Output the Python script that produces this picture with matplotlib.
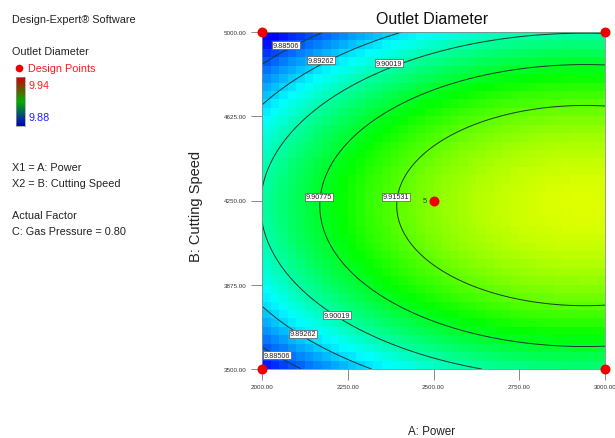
import numpy as np
import matplotlib.pyplot as plt
from matplotlib.colors import LinearSegmentedColormap, Normalize
from matplotlib.lines import Line2D

plt.rcParams['font.family'] = ['Liberation Sans', 'DejaVu Sans']

# factor ranges
power_lim = [2000.0, 3000.0]
speed_lim = [3500.0, 5000.0]

# quadratic model in coded units (x1 = power, x2 = cutting speed)
b0 = 9.91800
b1 = 0.011268
b11 = -0.006367
b2 = -0.00131
b22 = -0.02179

contour_levels = [9.88506, 9.89262, 9.90019, 9.90775, 9.91531]
color_lo, color_hi = 9.88, 9.94

# design points
design_A = [2000, 2000, 3000, 3000, 2500]
design_B = [3500, 5000, 5000, 3500, 4250]

# where each contour label sits (A, B, level)
label_A = [2070, 2172, 2370, 2166, 2391, 2219, 2120, 2044]
label_B = [4942, 4875, 4862, 4266, 4266, 3740, 3656, 3562]
label_val = [9.88506, 9.89262, 9.90019, 9.90775, 9.91531, 9.90019, 9.89262, 9.88506]

x_ticks = [2000, 2250, 2500, 2750, 3000]
y_ticks = [3500, 3875, 4250, 4625, 5000]


def model(A, B):
    x1 = (A - 2500.0) / 500.0
    x2 = (B - 4250.0) / 750.0
    return b0 + b1 * x1 + b11 * x1 ** 2 + b2 * x2 + b22 * x2 ** 2


rainbow = LinearSegmentedColormap.from_list(
    'de', ['#0000ff', '#00ffff', '#00ff00', '#ffff00', '#ff0000'])
norm = Normalize(color_lo, color_hi)

fig = plt.figure(figsize=(6.15, 4.39), dpi=100)
ax = fig.add_axes([262 / 615, 1 - 370 / 439, 343 / 615, 337 / 439])

# blocky colour fill
ea = np.linspace(*power_lim, 41)
eb = np.linspace(*speed_lim, 41)
ca = 0.5 * (ea[1:] + ea[:-1])
cb = 0.5 * (eb[1:] + eb[:-1])
CA, CB = np.meshgrid(ca, cb)
ax.pcolormesh(ea, eb, model(CA, CB), cmap=rainbow, norm=norm, shading='flat')

# smooth contour lines
fa = np.linspace(*power_lim, 300)
fb = np.linspace(*speed_lim, 300)
FA, FB = np.meshgrid(fa, fb)
ax.contour(FA, FB, model(FA, FB), levels=contour_levels,
           colors='#1a3a2a', linewidths=0.7)

for a, b, v in zip(label_A, label_B, label_val):
    ax.text(a, b, f'{v:.5f}', fontsize=5.2, ha='center', va='center',
            color='#222222', zorder=5,
            bbox=dict(boxstyle='square,pad=0.12', fc='white', ec='#555555', lw=0.5))

ax.scatter(design_A, design_B, s=38, color='#ee0000', zorder=6, clip_on=False)
ax.text(2482, 4250, '5', fontsize=5.5, ha='right', va='center', color='#2a3a10', zorder=6)

ax.set_xlim(power_lim)
ax.set_ylim(speed_lim)
ax.set_xticks(x_ticks)
ax.set_yticks(y_ticks)
ax.set_xticklabels([f'{t:.2f}' for t in x_ticks], fontsize=4.5, color='#333333')
ax.set_yticklabels([f'{t:.2f}' for t in y_ticks], fontsize=4.5, color='#333333')
ax.tick_params(direction='out', length=8, width=0.6, color='#777777', pad=3)
for sp in ax.spines.values():
    sp.set_color('#888888')
    sp.set_linewidth(0.6)

fig.text(432 / 615, 1 - 20 / 439, 'Outlet Diameter', fontsize=11.5,
         ha='center', va='center', color='#111111')
fig.text(432 / 615, 1 - 432 / 439, 'A: Power', fontsize=8.4,
         ha='center', va='center', color='#222222')
fig.text(196 / 615, 1 - 206 / 439, 'B: Cutting Speed', fontsize=10.5,
         ha='center', va='center', rotation=90, color='#222222')

# side panel
side = dict(fontsize=7.8, ha='left', va='center', color='#222222')
fig.text(12 / 615, 1 - 20 / 439, 'Design-Expert\u00ae Software', **side)
fig.text(12 / 615, 1 - 52 / 439, 'Outlet Diameter', **side)
fig.text(28 / 615, 1 - 69 / 439, 'Design Points', fontsize=7.8, ha='left',
         va='center', color='#ff1a1a')
fig.add_artist(Line2D([19 / 615], [1 - 69 / 439], marker='o', ms=4.5,
                      color='#ee0000', transform=fig.transFigure))
fig.text(28 / 615, 1 - 86 / 439, f'{color_hi:.2f}', fontsize=7.8, ha='left',
         va='center', color='#ff2020')
fig.text(28 / 615, 1 - 118 / 439, f'{color_lo:.2f}', fontsize=7.8, ha='left',
         va='center', color='#2020ff')
fig.text(12 / 615, 1 - 168 / 439, 'X1 = A: Power', **side)
fig.text(12 / 615, 1 - 184 / 439, 'X2 = B: Cutting Speed', **side)
fig.text(12 / 615, 1 - 216 / 439, 'Actual Factor', **side)
fig.text(12 / 615, 1 - 232 / 439, 'C: Gas Pressure = 0.80', **side)

bar_cmap = LinearSegmentedColormap.from_list('bar', ['#0000d0', '#00b000', '#d00000'])
cax = fig.add_axes([16 / 615, 1 - 127 / 439, 9 / 615, 49 / 439])
cax.imshow(np.linspace(0, 1, 64)[:, None], aspect='auto', cmap=bar_cmap,
           origin='lower', extent=[0, 1, 0, 1])
cax.set_xticks([])
cax.set_yticks([])
for sp in cax.spines.values():
    sp.set_color('#999999')
    sp.set_linewidth(0.5)

fig.savefig('out.png', dpi=100)
